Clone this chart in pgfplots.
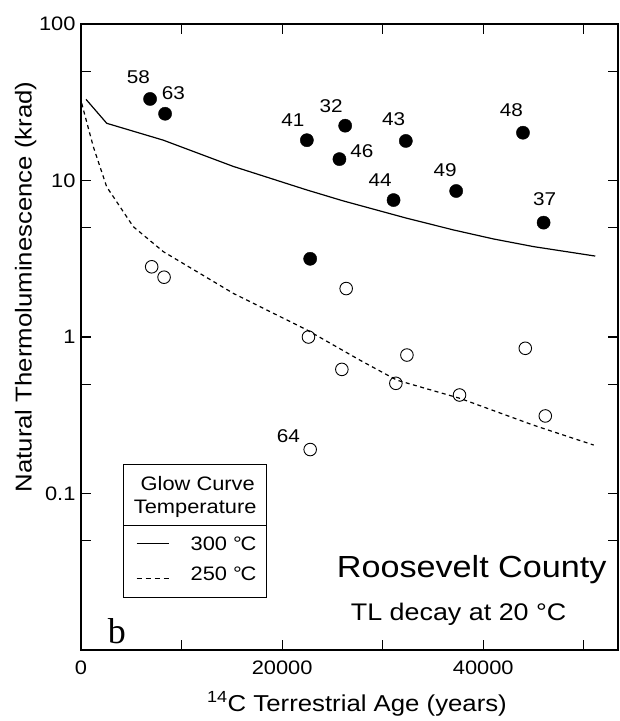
\documentclass[border=0pt]{standalone}
\usepackage{fontspec}
\setmainfont{Liberation Sans}[FakeStretch=1.12]
\newfontfamily\seriffont{Liberation Serif}
\usepackage{pgfplots}
\pgfplotsset{compat=1.18}
\begin{document}
\begin{tikzpicture}
\begin{axis}[
  at={(0,0)}, anchor=south west,
  scale only axis, width=537pt, height=626pt,
  xmin=0, xmax=53400, ymode=log, ymin=0.01, ymax=100,
  xtick={0,10000,20000,30000,40000,50000},
  xticklabels={0,,20000,,40000,},
  scaled x ticks=false,
  ytick={0.01,0.1,1,10,100},
  yticklabels={,0.1,1,10,100},
  minor ytick={0.05,0.5,5,50},
  tick align=inside, major tick length=10pt, minor tick length=10pt,
  tick style={line width=1.1pt, black},
  axis line style={line width=1.4pt},
  tick label style={font=\fontsize{19.5}{19.5}\selectfont},
  /pgf/number format/assume math mode=true,
  xticklabel style={yshift=-7pt},
  yticklabel style={xshift=-2pt},
  xlabel={\textsuperscript{14}C Terrestrial Age (years)},
  ylabel={Natural Thermoluminescence (krad)},
  label style={font=\fontsize{23}{23}\selectfont},
  xlabel style={at={(axis description cs:0.514,-0.0986)}, anchor=base},
  ylabel style={at={(axis description cs:-0.092,0.58)}, anchor=base},
  clip=false,
]
% 300 C decay curve
\addplot[black, line width=1.2pt] coordinates {
  (500,33) (2560,23.2) (8190,18.1) (15150,12.3) (22460,8.7) (26100,7.4)
  (32400,5.74) (37050,4.83) (41030,4.23) (45010,3.78) (51140,3.29)};
% 250 C decay curve
\addplot[black, line width=1.2pt, dash pattern=on 4pt off 3.5pt] coordinates {
  (70,31.1) (1230,16.4) (2560,9.1) (5200,5.07) (8190,3.51) (15150,1.90)
  (22460,1.11) (27760,0.71) (31410,0.53) (37710,0.405) (45010,0.273) (50980,0.204)};
% 300 C data
\addplot[only marks, mark=*, mark size=6.6pt, black] coordinates {
  (6870,33.2) (8360,26.7) (22460,18.1) (26270,22.4) (25700,13.7) (32300,17.9)
  (31080,7.5) (37310,8.57) (43950,20.2) (46000,5.38) (22790,3.16)};
% 250 C data
\addplot[only marks, mark=o, mark size=6.3pt, mark options={line width=0.9pt}, black] coordinates {
  (7030,2.81) (8260,2.41) (26370,2.04) (22620,1.0) (32410,0.767) (44180,0.847)
  (25940,0.621) (31310,0.506) (37640,0.426) (46170,0.313) (22790,0.191)};
\begin{scope}[every node/.style={font=\fontsize{18.5}{18.5}\selectfont, inner sep=0pt}]
\node at (axis cs:5700,45.6) {58};
\node at (axis cs:9180,36.4) {63};
\node at (axis cs:21060,24.3) {41};
\node at (axis cs:24870,29.9) {32};
\node at (axis cs:27930,15.5) {46};
\node at (axis cs:31080,24.7) {43};
\node at (axis cs:29750,10.0) {44};
\node at (axis cs:36220,11.6) {49};
\node at (axis cs:42790,28.2) {48};
\node at (axis cs:46100,7.62) {37};
\node at (axis cs:20630,0.231) {64};
\end{scope}
\end{axis}
% legend
\draw[line width=1pt] (42.3pt,52.7pt) rectangle (185.7pt,185pt);
\draw[line width=1pt] (42.3pt,125pt) -- (185.7pt,125pt);
\begin{scope}[every node/.style={font=\fontsize{19.5}{19.5}\selectfont, inner sep=0pt, anchor=base east}]
\node at (174pt,160pt) {Glow Curve};
\node at (175.7pt,136pt) {Temperature};
\node at (175.7pt,100pt) {300 °\kern-0.06em C};
\node at (175.7pt,69.3pt) {250 °\kern-0.06em C};
\end{scope}
\draw[line width=1pt] (55.7pt,106.7pt) -- (88.3pt,106.7pt);
\draw[line width=1pt, dash pattern=on 5pt off 4pt] (55.7pt,71.7pt) -- (88.3pt,71.7pt);
\node[anchor=base east, inner sep=0pt, font=\fontsize{30.5}{30.5}\selectfont] at (525.7pt,72.7pt) {Roosevelt County};
\node[anchor=base west, inner sep=0pt, font=\fontsize{24}{24}\selectfont] at (269.7pt,30pt) {TL decay at 20 °C};
\node[anchor=base, inner sep=0pt, font=\seriffont\fontsize{36}{36}\selectfont] at (36pt,7pt) {b};
\pgfresetboundingbox
\path[use as bounding box] (-81pt,-71pt) rectangle (539pt,650pt);
\end{tikzpicture}
\end{document}
